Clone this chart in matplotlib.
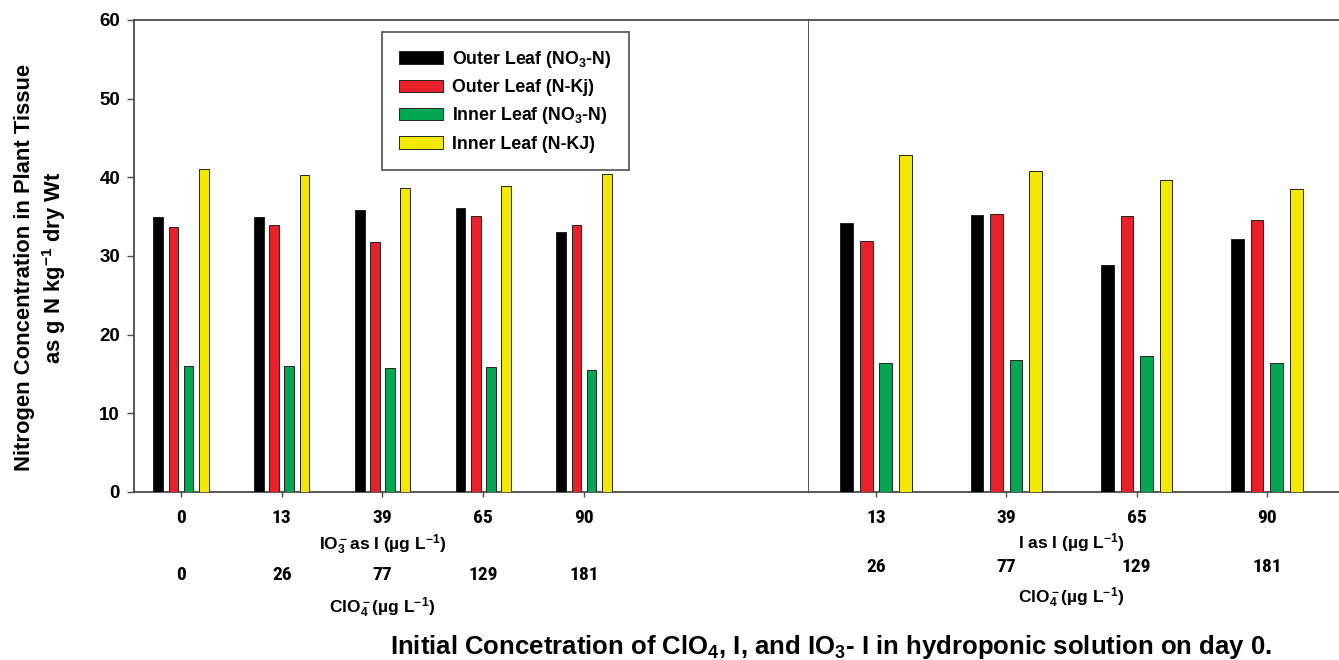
import matplotlib
matplotlib.use('Agg')
import matplotlib.pyplot as plt
from matplotlib import font_manager as fm
import numpy as np

# ---------------- data ----------------
io3_levels = ['0', '13', '39', '65', '90']
clo4_left = ['0', '26', '77', '129', '181']
i_levels = ['13', '39', '65', '90']
clo4_right = ['26', '77', '129', '181']

series_labels = ['Outer Leaf (NO$_3$-N)', 'Outer Leaf (N-Kj)',
                 'Inner Leaf (NO$_3$-N)', 'Inner Leaf (N-KJ)']
series_colors = ['#000000', '#e8202a', '#00a651', '#f2e800']

io3_outer_no3 = [35.0, 35.0, 35.8, 36.1, 33.0]
io3_outer_nkj = [33.7, 34.0, 31.8, 35.05, 34.0]
io3_inner_no3 = [16.05, 16.05, 15.75, 15.95, 15.45]
io3_inner_nkj = [41.05, 40.3, 38.65, 38.9, 40.4]

i_outer_no3 = [34.2, 35.2, 28.8, 32.2]
i_outer_nkj = [31.9, 35.3, 35.05, 34.6]
i_inner_no3 = [16.35, 16.75, 17.3, 16.35]
i_inner_nkj = [42.9, 40.75, 39.7, 38.5]

y_ticks = [0, 10, 20, 30, 40, 50, 60]

# ---------------- fonts ----------------
FONT = 'Liberation Sans'
narrow_file = None
pref = ['Liberation Sans Narrow', 'Roboto Condensed', 'DejaVu Sans Condensed',
        'Open Sans Condensed', 'DejaVu Sans']
cands = []
for f in fm.fontManager.ttflist:
    w = f.weight if isinstance(f.weight, int) else (700 if 'bold' in str(f.weight).lower() else 400)
    st = str(f.stretch).lower()
    is_narrow = ('narrow' in f.name.lower() or 'condensed' in f.name.lower()
                 or 'condensed' in st or 'narrow' in f.fname.lower()
                 or 'condensed' in f.fname.lower())
    if is_narrow and w >= 600 and f.style == 'normal':
        rank = len(pref)
        for i, p in enumerate(pref):
            if f.name.lower().startswith(p.lower()) or p.replace(' ', '').lower() in f.fname.replace('-', '').lower():
                rank = i
                break
        cands.append((rank, f.fname))
if cands:
    cands.sort()
    narrow_file = cands[0][1]

if narrow_file:
    NARROW = fm.FontProperties(fname=narrow_file)
    narrow_scale = 1.0
else:
    NARROW = fm.FontProperties(family=FONT, weight='bold')
    narrow_scale = 0.9

plt.rcParams['font.family'] = [FONT, 'DejaVu Sans']
plt.rcParams['font.weight'] = 'bold'
plt.rcParams['mathtext.fontset'] = 'custom'
plt.rcParams['mathtext.rm'] = FONT + ':bold'
plt.rcParams['mathtext.bf'] = FONT + ':bold'
plt.rcParams['mathtext.it'] = FONT + ':bold:italic'
plt.rcParams['mathtext.sf'] = FONT + ':bold'
plt.rcParams['mathtext.default'] = 'rm'

SPINE = '#4a4a4a'
W, H = 1339, 660
fig = plt.figure(figsize=(W / 100, H / 100), dpi=100)
fig.patch.set_facecolor('white')

ybot, ytop = 492, 20
axL = fig.add_axes([134 / W, 1 - ybot / H, 675 / W, (ybot - ytop) / H])
axR = fig.add_axes([809 / W, 1 - ybot / H, 530 / W, (ybot - ytop) / H])

bar_w = 0.097
step = 0.15
offsets = (np.arange(4) - 1.5) * step


def draw(ax, groups):
    x = np.arange(len(groups[0]))
    handles = []
    for k, vals in enumerate(groups):
        h = ax.bar(x + offsets[k], vals, width=bar_w, color=series_colors[k],
                   edgecolor='#222222', linewidth=0.7, label=series_labels[k],
                   zorder=3)
        handles.append(h)
    ax.set_ylim(0, 60)
    ax.set_xticks(x)
    ax.set_xticklabels([''] * len(x))
    ax.tick_params(axis='x', direction='out', length=3.5, width=1.0, color=SPINE)
    for s in ax.spines.values():
        s.set_color(SPINE)
        s.set_linewidth(1.3)
    return x, handles


xL, handles = draw(axL, [io3_outer_no3, io3_outer_nkj, io3_inner_no3, io3_inner_nkj])
xR, _ = draw(axR, [i_outer_no3, i_outer_nkj, i_inner_no3, i_inner_nkj])

axL.set_xlim(-0.466, 6.233)
axR.set_xlim(-0.514, 3.553)

axL.set_yticks(y_ticks)
axL.set_yticklabels([str(v) for v in y_ticks], fontsize=13.5, fontweight='bold')
axL.tick_params(axis='y', direction='out', length=5, width=1.0, color=SPINE, pad=5)

axR.set_yticks([])
axR.spines['left'].set_visible(False)
axR.spines['right'].set_visible(False)

PX = 72 / 100  # px -> points


def label_row(ax, xs, labels, dy_px, size=14, narrow=True):
    for xv, lab in zip(xs, labels):
        kw = {}
        if narrow:
            fp = NARROW.copy()
            fp.set_size(size * narrow_scale)
            kw['fontproperties'] = fp
        else:
            kw['fontsize'] = size
            kw['fontweight'] = 'bold'
        ax.annotate(lab, xy=(xv, 0), xycoords=('data', 'axes fraction'),
                    xytext=(0, -dy_px * PX), textcoords='offset points',
                    ha='center', va='center', **kw)


label_row(axL, xL, io3_levels, 26)
label_row(axL, xL, clo4_left, 83)
label_row(axL, [2], ['IO$_3^-$as I (µg L$^{-1}$)'], 53, size=12.5, narrow=False)
label_row(axL, [2], ['ClO$_4^-$(µg L$^{-1}$)'], 116, size=12.5, narrow=False)

label_row(axR, xR, i_levels, 26)
label_row(axR, xR, clo4_right, 75)
label_row(axR, [1.5], ['I as I (µg L$^{-1}$)'], 51, size=12.5, narrow=False)
label_row(axR, [1.5], ['ClO$_4^-$(µg L$^{-1}$)'], 106, size=12.5, narrow=False)

fig.text(831 / W, 1 - 647 / H,
         'Initial Concetration of ClO$_4$, I, and IO$_3$- I in hydroponic solution on day 0.',
         ha='center', va='center', fontsize=18.5, fontweight='bold')

fig.text(25 / W, 1 - 267 / H, 'Nitrogen Concentration in Plant Tissue',
         rotation=90, ha='center', va='center', fontsize=15.8, fontweight='bold')
fig.text(54 / W, 1 - 268 / H, 'as g N kg$^{-1}$ dry Wt',
         rotation=90, ha='center', va='center', fontsize=15.8, fontweight='bold')

leg = fig.legend(handles=handles, labels=series_labels,
                 loc='upper left', bbox_to_anchor=(382 / W, 1 - 32 / H),
                 fontsize=12.8, frameon=True, fancybox=False,
                 handlelength=2.5, handleheight=0.7, labelspacing=0.52,
                 borderpad=0.95, handletextpad=0.5, borderaxespad=0)
leg.get_frame().set_edgecolor('#333333')
leg.get_frame().set_linewidth(1.3)
for t in leg.get_texts():
    t.set_fontweight('bold')

fig.savefig('out.png', dpi=100, facecolor='white')
